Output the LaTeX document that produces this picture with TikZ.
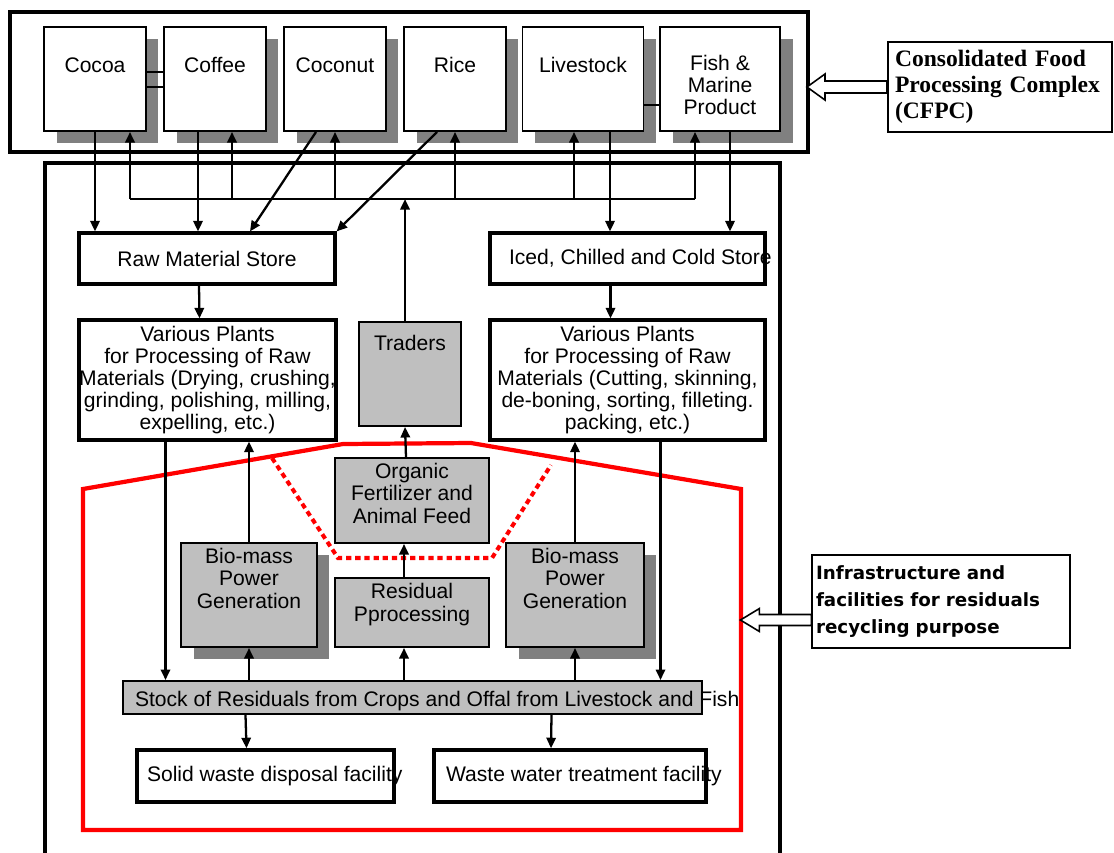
\documentclass[tikz,border=0pt]{standalone}
\usepackage{fontspec}
\setmainfont{Liberation Sans}
\newfontfamily\cfpcfont{Liberation Serif}
\newfontfamily\infrafont{DejaVu Sans}
\usetikzlibrary{arrows.meta,calc,shadows}

\begin{document}
\begin{tikzpicture}
    [x=0.02cm,y=-0.02cm,
     font=\fontsize{12}{12.6}\selectfont,
     >={Triangle[length=6pt,width=5.3pt]},
     arrow/.style={->,line width=1.3pt},
     shade/.style={general shadow={fill=black!50,shadow xshift=0.25cm,shadow yshift=-0.24cm}},
     crop/.style={draw,line width=1.1pt,fill=white,shade,inner sep=0pt,
         minimum width=2.04cm,text height=0.9cm,text depth=1.18cm},
     store/.style={draw,line width=1.8pt,fill=white,inner sep=0pt,minimum height=1.02cm},
     plant/.style={draw,line width=1.8pt,fill=white,align=center,inner sep=0pt,minimum height=2.4cm},
     grey/.style={draw,line width=1.1pt,fill=black!25,align=center,inner sep=0pt},
     waste/.style={draw,line width=2pt,fill=white,inner sep=0pt,minimum height=1.04cm}]
\useasboundingbox (0,0) rectangle (1114,852);
\draw [line width=2pt] (45,860) -- (45,163) -- (780,163) -- (780,860);
\draw [red,line width=2.4pt] (83,489) -- (343,444) -- (471,443) -- (741,489)
    -- (741,830) -- (83,830) -- cycle;
\draw [red,line width=2.3pt,dash pattern=on 3pt off 2.2pt]
    (272,458) -- (338,558) -- (492,558) -- (551,465);

\node [draw,line width=2.2pt,minimum width=15.96cm,minimum height=2.8cm] (complex) at (409,82) {};
\node [crop] (cocoa) at (95,79) {Cocoa};
\node [crop] (coffee) at (215,79) {Coffee};
\node [crop] (coconut) at (335,79) {Coconut};
\node [crop] (rice) at (455,79) {Rice};
\node [crop,minimum width=2.42cm] (livestock) at (583,79) {Livestock};
\node [crop,minimum width=2.4cm,align=center,text height=1.76cm,text depth=0.32cm]
    (fish) at (720,79) {Fish \&\\Marine\\Product};
\node [draw,line width=1.2pt,align=left,inner xsep=0.07cm,text width=4.2cm,
    minimum width=4.48cm,minimum height=1.8cm,
    font=\cfpcfont\bfseries\fontsize{13.4}{14.7}\selectfont]
    (cfpc) at (1000,87) {Consolidated Food\\Processing Complex\\(CFPC)};

\node [store,minimum width=5.12cm] (rms) at (207,258.5) {Raw Material Store};
\node [store,minimum width=5.5cm] (iced) at (627.5,258.5)
    {\makebox[4.74cm][l]{Iced, Chilled and Cold Store}};
\node [plant,minimum width=5.14cm] (vpl) at (207.5,380)
    {Various Plants\\for Processing of Raw\\Materials (Drying, crushing,\\grinding, polishing, milling,\\expelling, etc.)};
\node [plant,minimum width=5.5cm] (vpr) at (627.5,380)
    {Various Plants\\for Processing of Raw\\Materials (Cutting, skinning,\\de-boning, sorting, filleting.\\packing, etc.)};
\node [grey,minimum width=2.04cm,text height=0.56cm,text depth=1.52cm] (traders) at (410,374) {Traders};
\node [grey,minimum width=3.08cm,text height=1.3cm,text depth=0.4cm] (organic) at (412,500.5)
    {Organic\\Fertilizer and\\Animal Feed};
\node [grey,shade,minimum width=2.72cm,text height=1.3cm,text depth=0.78cm] (bml) at (249,595)
    {Bio-mass\\Power\\Generation};
\node [grey,minimum width=3.08cm,text height=0.86cm,text depth=0.52cm] (residual) at (412,612.5)
    {Residual\\Pprocessing};
\node [grey,shade,minimum width=2.76cm,text height=1.3cm,text depth=0.78cm] (bmr) at (575,595)
    {Bio-mass\\Power\\Generation};
\node [grey,minimum width=11.58cm,text height=0.5cm,text depth=0.16cm] (stock) at (412.5,697.5)
    {\makebox[11.1cm][l]{Stock of Residuals from Crops  and Offal  from Livestock and Fish}};
\node [waste,minimum width=5.14cm] (solid) at (265.5,776)
    {\makebox[4.74cm][l]{Solid waste disposal facility}};
\node [waste,minimum width=5.44cm] (water) at (570,776)
    {\makebox[4.96cm][l]{Waste water treatment facility}};
\node [draw,line width=0.7pt,align=left,inner xsep=0.08cm,text width=5cm,minimum height=1.86cm,
    font=\infrafont\bfseries\fontsize{10.4}{15.3}\selectfont]
    (infra) at (941,601.5) {Infrastructure and\\facilities for residuals\\recycling purpose};

\draw [line width=1.1pt] ($(cocoa.east)+(0,-7)$) -- ($(coffee.west)+(0,-7)$);
\draw [line width=1.1pt] ($(cocoa.east)+(0,8)$) -- ($(coffee.west)+(0,8)$);
\draw [line width=1.1pt] ($(livestock.east)+(0,26)$) -- ($(fish.west)+(0,26)$);

\draw [arrow] (cocoa.south) -- (cocoa.south |- rms.north);
\draw [arrow] ($(coffee.south)+(-17,0)$) -- ($(coffee.south |- rms.north)+(-17,0)$);
\draw [arrow] ($(coconut.south)+(-19,0)$) -- ($(rms.north)+(43,0)$);
\draw [arrow] ($(rice.south)+(-18,0)$) -- (rms.north east);
\draw [arrow] ($(livestock.south)+(27,0)$) -- ($(livestock.south |- iced.north)+(27,0)$);
\draw [arrow] ($(fish.south)+(10,0)$) -- ($(fish.south |- iced.north)+(10,0)$);

\coordinate (busW) at (130,199);
\coordinate (busE) at (695,199);
\draw [line width=1.3pt] (busW) -- (busE);
\draw [arrow] (busW) -- (busW |- cocoa.south);
\draw [arrow] ($(coffee.south |- busW)+(17,0)$) -- ($(coffee.south)+(17,0)$);
\draw [arrow] (coconut.south |- busW) -- (coconut.south);
\draw [arrow] (rice.south |- busW) -- (rice.south);
\draw [arrow] ($(livestock.south |- busW)+(-9,0)$) -- ($(livestock.south)+(-9,0)$);
\draw [arrow] (busE) -- (busE |- fish.south);
\draw [arrow] ($(traders.north)+(-5,0)$) -- ($(traders.north |- busW)+(-5,0)$);

\draw [arrow] ($(rms.south)+(-8,0)$) -- ($(vpl.north)+(-8,0)$);
\draw [arrow] ($(iced.south)+(-17,0)$) -- ($(vpr.north)+(-17,0)$);
\draw [arrow] ($(vpl.south)+(-42,0)$) -- ($(vpl.south |- stock.north)+(-42,0)$);
\draw [arrow] ($(vpr.south)+(33,0)$) -- ($(vpr.south |- stock.north)+(33,0)$);

\draw [arrow] (bml.south |- stock.north) -- (bml.south);
\draw [arrow] (bml.north) -- (bml.north |- vpl.south);
\draw [arrow] (bmr.south |- stock.north) -- (bmr.south);
\draw [arrow] (bmr.north) -- (bmr.north |- vpr.south);
\draw [arrow] ($(residual.south |- stock.north)+(-8,0)$) -- ($(residual.south)+(-8,0)$);
\draw [arrow] ($(residual.north)+(-8,0)$) -- ($(organic.south)+(-8,0)$);
\draw [arrow] ($(organic.north)+(-6,0)$) -- ($(traders.south)+(-5,0)$);

\draw [arrow] ($(stock.south)+(-167,0)$) -- ($(solid.north)+(-19,0)$);
\draw [arrow] ($(stock.south)+(139,0)$) -- ($(water.north)+(-19,0)$);

\draw [line width=0.9pt,fill=white] (cfpc.west) ++(0,-6) -- ++(-62,0) -- ++(0,-7)
    -- ++(-18,13) -- ++(18,13) -- ++(0,-7) -- ++(62,0) -- cycle;
\draw [line width=0.9pt,fill=white] (infra.west) ++(0,13) -- ++(-52,0) -- ++(0,-6)
    -- ++(-19,11.5) -- ++(19,11.5) -- ++(0,-6) -- ++(52,0) -- cycle;
\end{tikzpicture}
\end{document}
